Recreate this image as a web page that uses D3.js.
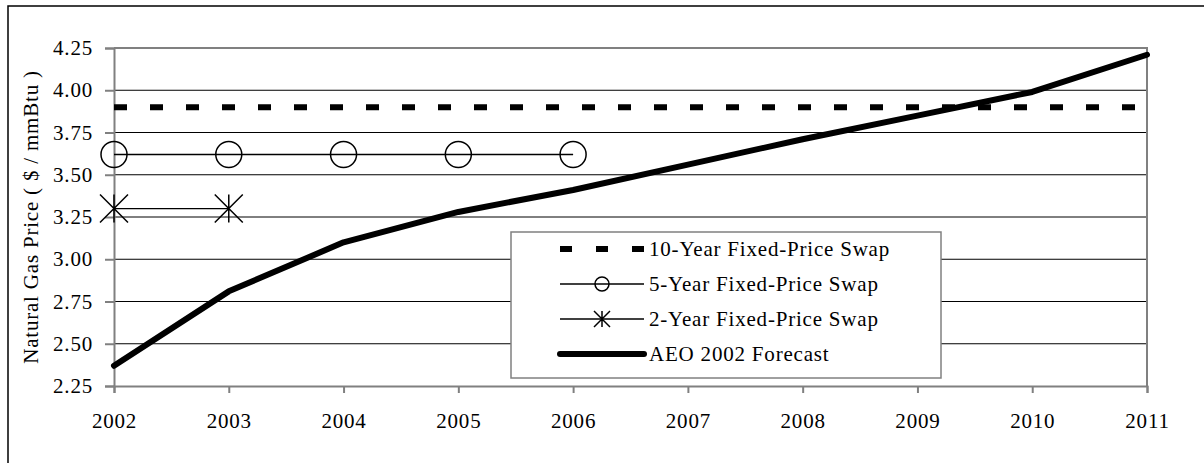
<!DOCTYPE html>
<html>
<head>
<meta charset="utf-8">
<script src="https://cdn.jsdelivr.net/npm/d3@7"></script>
<style>
	body { margin: 0; background: #fff; }
	text { font-family: "Liberation Serif", "Times New Roman", serif; font-size: 21px; letter-spacing: 0.8px; fill: #000; }
</style>
</head>
<body>
<svg id="chart" width="1204" height="463"></svg>
<script>
// Data
let years = [2002, 2003, 2004, 2005, 2006, 2007, 2008, 2009, 2010, 2011];
let aeoForecast = [2.37, 2.81, 3.10, 3.28, 3.41, 3.56, 3.71, 3.85, 3.99, 4.21];
let swap10Year = [3.90, 3.90, 3.90, 3.90, 3.90, 3.90, 3.90, 3.90, 3.90, 3.90];
let swap5Year = [3.62, 3.62, 3.62, 3.62, 3.62];
let swap2Year = [3.30, 3.30];
let yTicks = [2.25, 2.50, 2.75, 3.00, 3.25, 3.50, 3.75, 4.00, 4.25];
let legendLabels = ["10-Year Fixed-Price Swap", "5-Year Fixed-Price Swap", "2-Year Fixed-Price Swap", "AEO 2002 Forecast"];
let yTitle = "Natural Gas Price ( $ / mmBtu )";

let svg = d3.select("#chart");
let plot = { left: 114, right: 1147, top: 48, bottom: 386 };
let gray = "#808080";

let xScale = d3.scaleLinear().domain([2002, 2011]).range([plot.left, plot.right]);
let yScale = d3.scaleLinear().domain([2.25, 4.25]).range([plot.bottom, plot.top]);

// Outer frame (runs off the right and bottom of the picture)
svg.append("rect").attr("x", 8).attr("y", 6).attr("width", 1210).attr("height", 470)
	.attr("fill", "none").attr("stroke", "#000").attr("stroke-width", 1.5);

// Gridlines
svg.append("g").selectAll("line").data(yTicks.slice(1, -1)).enter().append("line")
	.attr("x1", plot.left).attr("x2", plot.right)
	.attr("y1", d => yScale(d)).attr("y2", d => yScale(d))
	.attr("stroke", "#000").attr("stroke-width", 1);

// Plot border (top / right) in gray
svg.append("path")
	.attr("d", "M" + plot.left + "," + plot.top + "H" + plot.right + "V" + plot.bottom)
	.attr("fill", "none").attr("stroke", gray).attr("stroke-width", 2);

// Axes
let yAxis = d3.axisLeft(yScale).tickValues(yTicks).tickFormat(d3.format(".2f")).tickSize(9).tickPadding(12);
let gy = svg.append("g").attr("transform", "translate(" + plot.left + ",0)").call(yAxis);
let xAxis = d3.axisBottom(xScale).tickValues(years).tickFormat(d3.format("d")).tickSize(7).tickPadding(20);
let gx = svg.append("g").attr("transform", "translate(0," + plot.bottom + ")").call(xAxis);
[gx, gy].forEach(function(g) {
	g.select(".domain").attr("stroke", gray).attr("stroke-width", 2);
	g.selectAll(".tick line").attr("stroke", gray).attr("stroke-width", 2);
	g.selectAll("text").attr("font-family", null).attr("font-size", null).attr("fill", "#000");
});

// Y axis title
svg.append("text")
	.attr("transform", "translate(38," + ((plot.top + plot.bottom) / 2) + ") rotate(-90)")
	.attr("text-anchor", "middle")
	.text(yTitle);

let line = d3.line().x((d, i) => xScale(years[i])).y(d => yScale(d));

// 10-year swap (dashed)
svg.append("path").attr("d", line(swap10Year))
	.attr("fill", "none").attr("stroke", "#000").attr("stroke-width", 6).attr("stroke-dasharray", "13,23");

// 5-year swap
svg.append("path").attr("d", line(swap5Year))
	.attr("fill", "none").attr("stroke", "#000").attr("stroke-width", 1.5);
svg.append("g").selectAll("circle").data(swap5Year).enter().append("circle")
	.attr("cx", (d, i) => xScale(years[i])).attr("cy", d => yScale(d)).attr("r", 13)
	.attr("fill", "none").attr("stroke", "#000").attr("stroke-width", 1.5);

// 2-year swap
function starPath(x, y, s) {
	return "M" + (x - s) + "," + (y - s) + "L" + (x + s) + "," + (y + s) +
		"M" + (x - s) + "," + (y + s) + "L" + (x + s) + "," + (y - s) +
		"M" + x + "," + (y - s) + "L" + x + "," + (y + s);
}
svg.append("path").attr("d", line(swap2Year))
	.attr("fill", "none").attr("stroke", "#000").attr("stroke-width", 1.3);
svg.append("g").selectAll("path").data(swap2Year).enter().append("path")
	.attr("d", (d, i) => starPath(xScale(years[i]), yScale(d), 14))
	.attr("fill", "none").attr("stroke", "#000").attr("stroke-width", 1.5);

// AEO forecast
svg.append("path").attr("d", line(aeoForecast))
	.attr("fill", "none").attr("stroke", "#000").attr("stroke-width", 6)
	.attr("stroke-linecap", "round").attr("stroke-linejoin", "round");

// Legend
let legend = svg.append("g");
legend.append("rect").attr("x", 511).attr("y", 232).attr("width", 430).attr("height", 146)
	.attr("fill", "#fff").attr("stroke", gray).attr("stroke-width", 1.5);
let rowY = d3.scalePoint().domain(legendLabels).range([249, 354]);
let symX0 = 560, symX1 = 644, symXm = 602;

legend.append("line").attr("x1", symX0).attr("x2", symX1)
	.attr("y1", rowY(legendLabels[0])).attr("y2", rowY(legendLabels[0]))
	.attr("stroke", "#000").attr("stroke-width", 6).attr("stroke-dasharray", "12,24");

legend.append("line").attr("x1", symX0).attr("x2", symX1)
	.attr("y1", rowY(legendLabels[1])).attr("y2", rowY(legendLabels[1]))
	.attr("stroke", "#000").attr("stroke-width", 1.5);
legend.append("circle").attr("cx", symXm).attr("cy", rowY(legendLabels[1])).attr("r", 7)
	.attr("fill", "none").attr("stroke", "#000").attr("stroke-width", 1.5);

legend.append("line").attr("x1", symX0).attr("x2", symX1)
	.attr("y1", rowY(legendLabels[2])).attr("y2", rowY(legendLabels[2]))
	.attr("stroke", "#000").attr("stroke-width", 1.3);
legend.append("path").attr("d", starPath(symXm, rowY(legendLabels[2]), 8))
	.attr("fill", "none").attr("stroke", "#000").attr("stroke-width", 1.5);

legend.append("line").attr("x1", symX0).attr("x2", symX1)
	.attr("y1", rowY(legendLabels[3])).attr("y2", rowY(legendLabels[3]))
	.attr("stroke", "#000").attr("stroke-width", 6).attr("stroke-linecap", "round");

legend.selectAll("text.label").data(legendLabels).enter().append("text")
	.attr("class", "label")
	.attr("x", 649).attr("y", d => rowY(d)).attr("dy", "0.35em")
	.text(d => d);
</script>
</body>
</html>
